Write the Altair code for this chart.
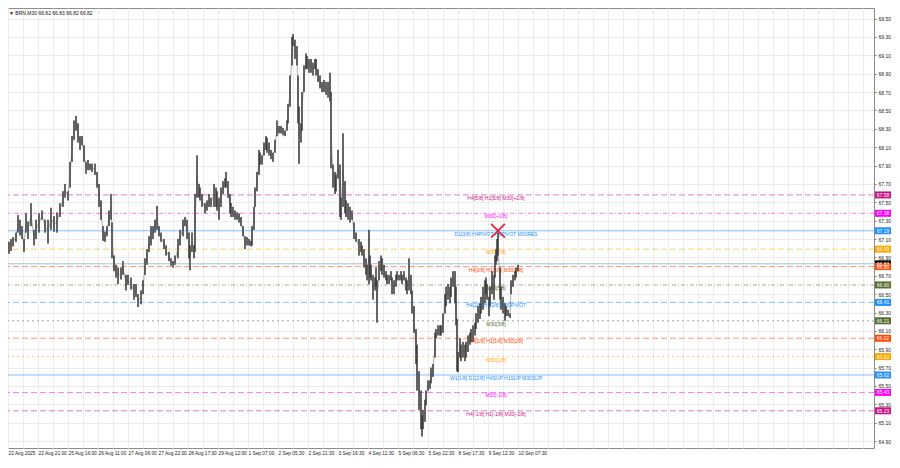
import altair as alt
import pandas as pd

# ---- price columns (M30 bars, BRN) ----
bars = [1, 3, 5, 8, 10, 12, 14, 16, 18, 20, 23, 26, 28, 31, 34, 37, 40, 43, 46, 49, 52, 55, 57, 60, 62, 64, 66, 68, 70, 72, 74, 76, 78, 80, 82, 84, 87, 89, 91, 93, 95, 97, 99, 101, 103, 104, 106, 108, 110, 113, 115, 118, 120, 123, 126, 128, 130, 133, 135, 137, 139, 141, 143, 145, 147, 149, 151, 153, 156, 158, 161, 163, 165, 167, 170, 172,
        175, 177, 179, 181, 182, 184, 186, 187, 189, 191, 192, 194, 197, 199, 201, 203, 206, 208, 209, 211, 213, 215, 217, 218, 220, 222, 223, 225, 227, 229, 231, 233, 235, 237, 239, 241, 243, 244, 246, 247, 249, 251, 252, 254, 256, 258, 259, 261, 263, 265, 267, 269, 271, 273, 275, 277, 279, 280, 282, 284, 285, 287, 289, 290, 291, 293, 294, 296, 298, 299, 301, 303, 305, 307, 308, 310, 312, 314, 316, 318, 320, 322, 323, 325, 327, 328, 330, 332, 333, 335, 337, 338, 340, 342, 344,
        346, 348, 351, 353, 354, 356, 358, 359, 361, 362, 363, 365, 367, 368, 369, 371, 373, 374, 376, 378, 379, 381, 383, 384, 386, 388, 389, 391, 393, 394, 396, 398, 399, 401, 403, 404, 406, 408, 409, 411, 413, 414, 415, 417, 418, 420, 422, 423, 425,
        427, 428, 430, 432, 433, 435, 437, 438, 440, 442, 443, 445, 447, 448, 449, 450, 452, 453, 455, 457, 458, 460, 462, 463, 465, 467, 468, 470, 472, 473, 475, 477, 478, 479, 481, 482, 484, 486, 487, 488, 489, 490, 492, 493, 495, 497, 498, 500, 502, 503, 505, 507, 508, 510]
highs = [67.07, 67.10, 67.12, 67.17, 67.36, 67.31, 67.24, 67.10, 67.38, 67.29, 67.49, 67.20, 67.31, 67.38, 67.41, 67.31, 67.31, 67.44, 67.35, 67.39, 67.49, 67.62, 67.70, 67.62, 67.94, 68.22, 68.39, 68.44, 68.36, 68.22, 68.22, 68.12, 67.94, 67.96, 67.92, 67.92, 67.92, 67.83, 67.70, 67.52, 67.24, 67.18, 67.24, 67.41, 67.59, 67.28, 66.92, 66.82, 66.79, 66.79, 66.86, 66.71, 66.71, 66.68, 66.61, 66.61, 66.50, 66.54, 66.65, 66.89, 66.99, 67.13, 67.24, 67.24, 67.31, 67.46, 67.24, 67.17, 67.10, 67.03, 66.96, 66.89, 66.86, 66.92, 67.10, 67.20,
         67.31, 67.34, 67.31, 67.17, 67.03, 67.17, 67.03, 67.59, 68.01, 67.70, 67.66, 67.59, 67.49, 67.52, 67.59, 67.55, 67.70, 67.66, 67.62, 67.55, 67.66, 67.73, 67.76, 67.83, 67.73, 67.59, 67.49, 67.45, 67.41, 67.39, 67.38, 67.34, 67.24, 67.13, 67.12, 67.10, 67.08, 67.24, 67.45, 67.66, 67.83, 68.07, 68.04, 68.01, 68.15, 68.22, 68.20, 68.15, 68.07, 68.04, 68.18, 68.39, 68.33, 68.33, 68.31, 68.28, 68.39, 68.57, 68.88, 69.30, 69.33, 69.27, 69.20, 68.88, 68.54, 68.36, 68.70, 68.99, 69.12, 69.09, 69.06, 69.06, 69.02, 69.06, 69.06, 68.95, 68.88, 68.81, 68.83, 68.81, 68.81, 68.91, 68.70, 67.91, 67.83, 67.80, 68.07, 67.91, 67.55, 68.25, 67.73, 67.52, 67.49, 67.45, 67.41,
         67.28, 67.17, 67.10, 67.07, 67.03, 66.99, 66.89, 66.82, 67.20, 66.92, 66.82, 66.71, 66.68, 66.79, 66.65, 66.86, 66.92, 66.89, 66.82, 66.75, 66.71, 66.71, 66.75, 66.68, 66.65, 66.71, 66.75, 66.71, 66.75, 66.71, 66.75, 66.68, 66.65, 66.89, 66.71, 66.54, 66.37, 66.12, 65.95, 65.66, 65.45, 65.18, 65.24, 65.35, 65.45, 65.56, 65.56, 65.70, 65.74,
         66.08, 66.12, 66.16, 66.16, 66.16, 66.29, 66.50, 66.58, 66.61, 66.58, 66.68, 66.75, 66.75, 66.58, 66.23, 65.87, 66.02, 65.95, 65.98, 65.95, 65.98, 66.05, 66.08, 66.12, 66.16, 66.19, 66.29, 66.37, 66.40, 66.47, 66.58, 66.65, 66.68, 66.61, 66.47, 66.58, 66.75, 66.71, 66.92, 66.99, 67.10, 67.17, 66.79, 66.58, 66.47, 66.40, 66.37, 66.33, 66.29, 66.65, 66.71, 66.75, 66.79, 66.82]
lows = [66.94, 66.97, 67.02, 67.07, 67.17, 67.14, 67.10, 66.96, 67.17, 67.10, 67.24, 67.03, 67.10, 67.17, 67.31, 67.17, 67.05, 67.20, 67.18, 67.17, 67.34, 67.45, 67.55, 67.52, 67.66, 67.94, 68.18, 68.28, 68.15, 68.07, 68.12, 67.94, 67.81, 67.85, 67.85, 67.83, 67.80, 67.66, 67.45, 67.31, 67.08, 67.07, 67.13, 67.24, 67.31, 66.89, 66.75, 66.68, 66.61, 66.66, 66.71, 66.54, 66.60, 66.55, 66.44, 66.47, 66.36, 66.39, 66.50, 66.71, 66.82, 66.96, 67.03, 67.10, 67.17, 67.20, 67.13, 67.07, 66.99, 66.92, 66.86, 66.81, 66.79, 66.82, 66.89, 67.03,
        67.13, 67.24, 67.10, 66.89, 66.76, 66.96, 66.89, 66.96, 67.55, 67.55, 67.52, 67.45, 67.38, 67.41, 67.45, 67.45, 67.45, 67.45, 67.41, 67.31, 67.45, 67.59, 67.66, 67.66, 67.55, 67.38, 67.34, 67.34, 67.31, 67.31, 67.28, 67.24, 67.13, 66.99, 67.03, 67.03, 67.02, 67.03, 67.20, 67.45, 67.62, 67.80, 67.91, 67.91, 68.01, 68.07, 68.04, 68.01, 67.97, 67.94, 68.04, 68.22, 68.25, 68.25, 68.23, 68.22, 68.28, 68.36, 68.54, 68.99, 69.20, 69.06, 68.99, 68.36, 67.92, 68.15, 68.28, 68.70, 68.95, 68.95, 68.91, 68.91, 68.88, 68.95, 68.88, 68.81, 68.74, 68.70, 68.70, 68.67, 68.64, 68.60, 67.87, 67.66, 67.59, 67.62, 67.76, 67.34, 67.31, 67.45, 67.38, 67.34, 67.31, 67.28, 67.31,
        67.10, 67.07, 66.92, 66.96, 66.92, 66.79, 66.71, 66.65, 66.61, 66.68, 66.65, 66.44, 66.54, 66.58, 66.19, 66.65, 66.75, 66.71, 66.68, 66.65, 66.61, 66.61, 66.65, 66.50, 66.50, 66.58, 66.65, 66.65, 66.65, 66.61, 66.65, 66.54, 66.50, 66.54, 66.50, 66.29, 66.08, 65.74, 65.45, 65.24, 65.03, 64.95, 65.03, 65.11, 65.29, 65.45, 65.47, 65.53, 65.60,
        65.81, 66.02, 66.05, 66.05, 66.05, 66.08, 66.29, 66.37, 66.44, 66.40, 66.47, 66.58, 66.40, 66.16, 65.66, 65.65, 65.81, 65.77, 65.81, 65.77, 65.81, 65.87, 65.95, 65.98, 65.98, 66.05, 66.12, 66.19, 66.23, 66.29, 66.33, 66.40, 66.50, 66.44, 66.26, 66.37, 66.50, 66.44, 66.68, 66.82, 66.86, 66.92, 66.44, 66.33, 66.29, 66.21, 66.26, 66.26, 66.24, 66.50, 66.58, 66.65, 66.68, 66.75]

# ---- Murrey / pivot levels ----
level_prices = [67.58, 67.38, 67.19, 66.99, 66.80, 66.60, 66.41, 66.21, 66.02, 65.82, 65.62, 65.43, 65.23]
level_names = ["H4[5/8] H1[5/8] M30[+2/8]", "M30[+1/8]", "D1[3/8] H4PIVOT H1PIVOT M30RES", "M30[7/8]",
               "H4[3/8] H1[3/8] M30[6/8]", "M30[5/8]", "H4[2/8] H1[2/8] M30PIVOT", "M30[3/8]",
               "H4[1/8] H1[1/8] M30[2/8]", "M30[1/8]", "W1[1/8] D1[2/8] H4SUP H1SUP M30SUP", "M30[-1/8]",
               "H4[-1/8] H1[-1/8] M30[-2/8]"]
level_colors = ["#C71585", "#FF00FF", "#1E90FF", "#FFA500", "#FF4500", "#556B2F", "#1E90FF", "#556B2F",
                "#FF4500", "#FFA500", "#1E90FF", "#FF00FF", "#C71585"]
level_styles = ["dash", "dashdot", "solid", "dash", "dash", "dashdot", "dash", "dot", "dash", "dot", "solid", "dash", "dash"]

# ---- right-hand price tags ----
tag_prices = [67.58, 67.38, 67.19, 66.99, 66.83, 66.80, 66.60, 66.41, 66.21, 66.02, 65.82, 65.62, 65.43, 65.23]
tag_colors = ["#C71585", "#FF00FF", "#1E90FF", "#FFA500", "#000000", "#FF4500", "#556B2F", "#1E90FF",
              "#556B2F", "#FF4500", "#FFA500", "#1E90FF", "#FF00FF", "#C71585"]

bid_price = 66.83
cross_bar = [490]
cross_price = [67.19]

price_ticks = [64.90, 65.10, 65.30, 65.50, 65.70, 65.90, 66.10, 66.30, 66.50, 66.70, 66.90, 67.10,
               67.30, 67.50, 67.70, 67.90, 68.10, 68.30, 68.50, 68.70, 68.90, 69.10, 69.30, 69.50]
time_labels = ["22 Aug 2025", "22 Aug 21:00", "25 Aug 16:00", "26 Aug 11:00", "27 Aug 06:00", "27 Aug 22:00",
               "28 Aug 17:00", "29 Aug 12:00", "1 Sep 07:00", "2 Sep 05:30", "2 Sep 21:30", "3 Sep 16:30",
               "4 Sep 11:30", "5 Sep 06:30", "5 Sep 22:30", "8 Sep 17:30", "9 Sep 12:30", "10 Sep 07:30"]
title_text = "\u25BC BRN,M30  66.82 66.83 66.82 66.82"

W, H = 866, 440
FONT = "Liberation Sans"
LABEL_STEP = 30
grid_vals = list(range(0, W + 1, LABEL_STEP // 2))
label_expr = " : ".join(f"datum.value == {i * LABEL_STEP} ? '{t}'" for i, t in enumerate(time_labels)) + " : ''"

xs = alt.Scale(domain=[0, W], nice=False, zero=False)
ys = alt.Scale(domain=[64.825, 69.615], nice=False, zero=False)

candles = pd.DataFrame({"bar": bars, "high": highs, "low": lows})
levels = pd.DataFrame({"price": level_prices, "name": level_names, "style": level_styles})
tags = pd.DataFrame({"price": tag_prices, "color": tag_colors,
                     "label": [f"{p:.2f}" for p in tag_prices]})

x_axis = alt.Axis(values=grid_vals, tickCount=200, labelExpr=label_expr, labelOverlap=False, labelFlush=False,
                  labelAlign="left", labelBaseline="top", labelPadding=2, labelFontSize=4.8,
                  labelFont=FONT, labelColor="#222", ticks=False, domain=False, title=None,
                  grid=True, gridColor="#ececec", gridWidth=1)
y_axis = alt.Axis(orient="right", values=price_ticks, tickCount=200, format=".2f", labelOverlap=False,
                  labelFontSize=5, labelFont=FONT, labelColor="#222", labelPadding=2, tickSize=2,
                  tickColor="#777", domain=False, title=None, grid=True, gridColor="#ececec", gridWidth=1)

base_candle = alt.Chart(candles).encode(
    x=alt.X("bar:Q", scale=xs, axis=x_axis),
    y=alt.Y("low:Q", scale=ys, axis=y_axis),
)
wicks = base_candle.mark_rule(color="#333333", strokeWidth=1.0).encode(y2="high:Q")
mid_line = alt.Chart(candles).transform_calculate(mid="(datum.high + datum.low) / 2").mark_line(
    color="#7a7a7a", strokeWidth=0.6).encode(x=alt.X("bar:Q", scale=xs), y=alt.Y("mid:Q", scale=ys))

style_dom = ["solid", "dash", "dashdot", "dot"]
style_rng = [[1, 0], [6, 3], [4, 2, 1, 2], [2, 3]]

level_lines = alt.Chart(levels).mark_rule(strokeWidth=1, opacity=0.55).encode(
    y=alt.Y("price:Q", scale=ys),
    color=alt.Color("name:N", scale=alt.Scale(domain=level_names, range=level_colors), legend=None),
    strokeDash=alt.StrokeDash("style:N", scale=alt.Scale(domain=style_dom, range=style_rng), legend=None),
)
bid_line = alt.Chart(pd.DataFrame({"price": [bid_price]})).mark_rule(
    color="#A9BCD6", strokeWidth=1).encode(y=alt.Y("price:Q", scale=ys))

level_text = alt.Chart(levels).mark_text(fontSize=5, font=FONT, align="center", baseline="middle", dy=3).encode(
    x=alt.value(488),
    y=alt.Y("price:Q", scale=ys),
    text="name:N",
    color=alt.Color("name:N", scale=alt.Scale(domain=level_names, range=level_colors), legend=None),
)

cross = alt.Chart(pd.DataFrame({"bar": cross_bar, "price": cross_price})).mark_point(
    shape="M-1,-1L1,1M-1,1L1,-1", size=190, filled=False, color="#E8283C", strokeWidth=1.8, opacity=1
).encode(x=alt.X("bar:Q", scale=xs), y=alt.Y("price:Q", scale=ys))

tag_boxes = alt.Chart(tags).mark_tick(orient="horizontal", size=16, thickness=7, opacity=1).encode(
    x=alt.value(W + 9),
    y=alt.Y("price:Q", scale=ys),
    color=alt.Color("color:N", scale=None),
)
tag_text = alt.Chart(tags).mark_text(fontSize=5, font=FONT, color="white", align="center", baseline="middle").encode(
    x=alt.value(W + 9),
    y=alt.Y("price:Q", scale=ys),
    text="label:N",
)

title = alt.Chart(pd.DataFrame({"t": [title_text]})).mark_text(
    fontSize=5, font=FONT, color="#111", align="left", baseline="middle").encode(
    x=alt.value(1), y=alt.value(5), text="t:N")

chart = alt.layer(
    wicks, level_lines, bid_line, level_text, mid_line, wicks, cross, tag_boxes, tag_text, title
).properties(
    width=W, height=H,
    autosize=alt.AutoSizeParams(type="none"),
    padding={"left": 0, "top": 0, "right": 18, "bottom": 9},
    background="white",
).configure_view(stroke="#8c8c8c", strokeWidth=1)

chart.save("out.html", embed_options={"renderer": "svg", "actions": False})
